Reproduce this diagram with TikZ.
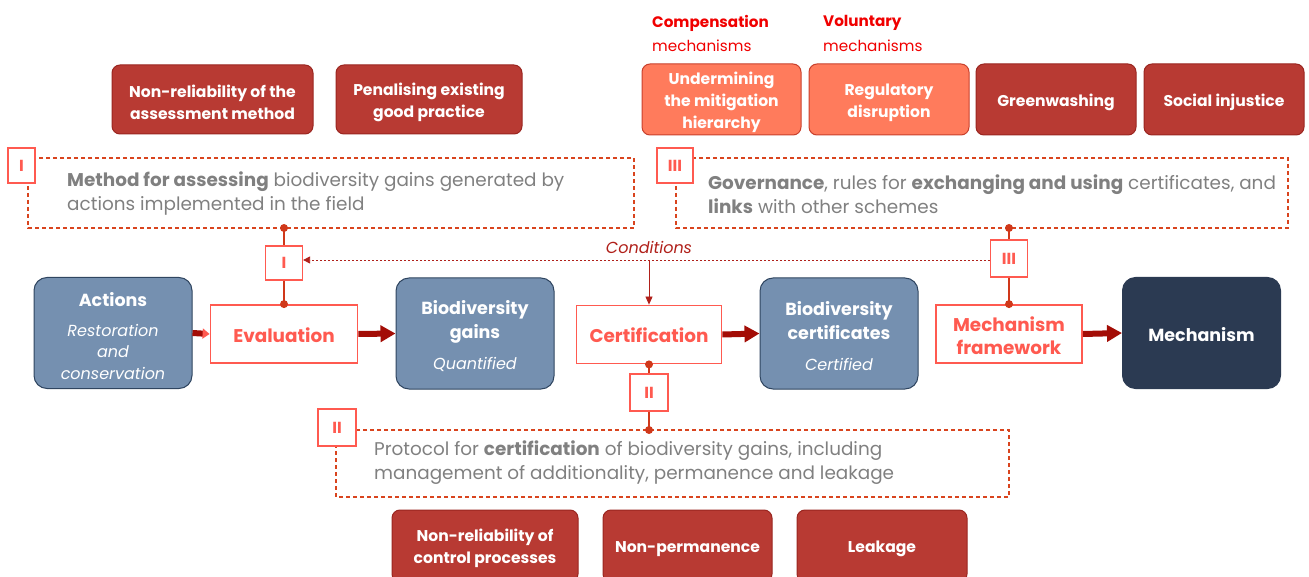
\documentclass[tikz,border=0pt]{standalone}
\usepackage{fontspec}
\setmainfont{Poppins}
\usetikzlibrary{arrows.meta}
\definecolor{riskred}{HTML}{B83A33}
\definecolor{riskborder}{HTML}{9A2620}
\definecolor{riskcoral}{HTML}{FF7B5C}
\definecolor{coralborder}{HTML}{C8402C}
\definecolor{slate}{HTML}{7590B0}
\definecolor{slateborder}{HTML}{2F4560}
\definecolor{navy}{HTML}{2B3A52}
\definecolor{coral}{HTML}{FF5A50}
\definecolor{flowred}{HTML}{A30D06}
\definecolor{dotred}{HTML}{D0381A}
\definecolor{dashred}{HTML}{D9441E}
\definecolor{condred}{HTML}{B0201A}
\definecolor{txtgray}{HTML}{808080}
\definecolor{headred}{HTML}{F00000}
\newcommand\subtf{\itshape\fontsize{16}{21.5}\selectfont}
\newcommand\bigb{\upshape\bfseries\fontsize{17.5}{21.5}\selectfont}
\newcommand\dn[1]{\rule{0pt}{#1}}
\begin{document}
\begin{tikzpicture}[x=1pt,y=-1pt,
  risk/.style={rectangle, rounded corners=8pt, fill=riskred, draw=riskborder, line width=1pt,
    text=white, font=\bfseries\fontsize{15.6}{22}\selectfont, align=center, inner sep=0pt},
  riskl/.style={risk, fill=riskcoral, draw=coralborder},
  bluebox/.style={rectangle, rounded corners=13pt, fill=slate, draw=slateborder, line width=1pt,
    text=white, align=center, inner sep=0pt, minimum width=158pt, minimum height=111pt,
    font=\subtf},
  stepbox/.style={rectangle, draw=coral, line width=1.8pt, fill=white, text=coral,
    font=\bfseries\fontsize{18.4}{23}\selectfont, align=center, inner sep=0pt, minimum height=58pt},
  tagbox/.style={rectangle, draw=coral, line width=1.2pt, fill=white, text=coral,
    font=\bfseries\fontsize{16}{18}\selectfont, inner sep=0pt},
  dbox/.style={draw=dashred, line width=1.1pt, dash pattern=on 4pt off 3pt},
  desc/.style={anchor=west, text=txtgray, font=\fontsize{18.4}{24}\selectfont, align=left, inner sep=0pt},
  flow/.style={draw=flowred, line width=6pt, -{Triangle[length=15pt,width=16pt]}},
  link/.style={draw=dotred, line width=1.3pt},
  dot/.style={circle, fill=dotred, inner sep=0pt, minimum size=8pt},
  cond/.style={draw=condred, line width=0.8pt, dash pattern=on 2pt off 2pt},
  headb/.style={anchor=west, text=headred, font=\bfseries\fontsize{15.2}{18}\selectfont, inner sep=0pt},
  headn/.style={anchor=west, text=headred, font=\fontsize{15.2}{18}\selectfont, inner sep=0pt}
]
\useasboundingbox (0,0) rectangle (1309,577);

% top risk boxes
\node[risk, minimum width=201pt, minimum height=69pt] (rA) at (212.5,99.5) {\dn{17.5pt}Non-reliability of the\\assessment method};
\node[risk, minimum width=186pt, minimum height=69pt] (rB) at (429,99.5) {\dn{17.5pt}Penalising existing\\good practice};
\node[riskl, minimum width=159pt, minimum height=71pt] (rC) at (721.5,99.5) {\dn{17.5pt}Undermining\\the mitigation\\hierarchy};
\node[riskl, minimum width=160pt, minimum height=71pt] (rD) at (889,99.5) {\dn{17.5pt}Regulatory\\disruption};
\node[risk, minimum width=160pt, minimum height=71pt] (rE) at (1056,99.5) {\dn{17.5pt}Greenwashing};
\node[risk, minimum width=160pt, minimum height=71pt] (rF) at (1224,99.5) {\dn{17.5pt}Social injustice};

\node[headb] (h1) at (652,23) {Compensation};
\node[headn] (h2) at (652,46) {mechanisms};
\node[headb] (h3) at (823,23) {Voluntary};
\node[headn] (h4) at (823,46) {mechanisms};

% dashed boxes
\draw[dbox] (28,158) rectangle (634,228);
\coordinate (dIb) at (284,228);
\node[desc] (tx1) at (67,194) {\textbf{Method for assessing} biodiversity gains generated by\\actions implemented in the field};
\node[tagbox, minimum width=27pt, minimum height=35pt] (tIbig) at (21.5,165.5) {I};

\draw[dbox] (676,158) rectangle (1288,228);
\coordinate (dIIIb) at (1009,228);
\node[desc] (tx3) at (708,194) {\textbf{Governance}, rules for \textbf{exchanging and using} certificates, and\\\textbf{links} with other schemes};
\node[tagbox, minimum width=36pt, minimum height=35pt] (tIIIbig) at (675,165.5) {III};

\draw[dbox] (336,430) rectangle (1009,497);
\coordinate (dIIt) at (649,430);
\node[desc] (tx2) at (374,463) {Protocol for \textbf{certification} of biodiversity gains, including\\management of additionality, permanence and leakage};
\node[tagbox, minimum width=38pt, minimum height=37pt] (tIIbig) at (337,427.5) {II};

% main flow
\node[bluebox] (act) at (113,333) {\bigb\dn{20pt}Actions\\[8.5pt]\subtf Restoration\\\subtf and\\\subtf conservation};
\node[stepbox, minimum width=147pt] (ev) at (284,334) {\dn{17pt}Evaluation};
\node[bluebox] (gain) at (475,333.5) {\bigb\dn{20pt}Biodiversity\\[2.5pt]\bigb gains\\[9.5pt]\subtf Quantified};
\node[stepbox, minimum width=145pt] (cert) at (649,334.5) {\dn{17pt}Certification};
\node[bluebox] (bcert) at (839,333.5) {\bigb\dn{20pt}Biodiversity\\[2.5pt]\bigb certificates\\[9.5pt]\subtf Certified};
\node[stepbox, minimum width=146pt] (mfw) at (1009,334) {\dn{18pt}Mechanism\\framework};
\node[bluebox, fill=navy, draw=navy, font=\bigb] (mech) at (1201.5,333) {\dn{17pt}Mechanism};

\draw[draw=flowred, line width=6pt, -{Triangle[length=7pt,width=10pt,fill=coral,color=coral]}] (act.east) -- (ev.west);
\draw[flow] (ev.east) -- (gain.west);
\draw[flow] (cert.east) -- (bcert.west);
\draw[flow] (mfw.east) -- (mech.west);

% small tags and links
\node[tagbox, minimum width=37pt, minimum height=34pt] (tI) at (284,263) {I};
\node[tagbox, minimum width=38pt, minimum height=37pt] (tII) at (649,392.5) {II};
\node[tagbox, minimum width=37pt, minimum height=37pt] (tIII) at (1009,258.5) {III};

\draw[link] (dIb) -- (tI.north);
\draw[link] (tI.south) -- (ev.north);
\node[dot] (d1) at (dIb) {};
\node[dot] (d2) at (ev.north) {};

\draw[link] (cert.south) -- (tII.north);
\draw[link] (tII.south) -- (dIIt);
\node[dot] (d3) at (cert.south) {};
\node[dot] (d4) at (dIIt) {};

\draw[link] (dIIIb) -- (tIII.north);
\draw[link] (tIII.south) -- (mfw.north);
\node[dot] (d5) at (dIIIb) {};
\node[dot] (d6) at (mfw.north) {};

% conditions
\draw[cond, -{Triangle[length=7pt,width=7pt]}] (tIII.west |- 0,260) -- (tI.east |- 0,260);
\coordinate (cj) at (649,260);
\draw[draw=condred, line width=0.8pt, -{Triangle[length=8pt,width=7pt]}] (cj) -- (cert.north);
\node[text=condred, font=\itshape\fontsize{16}{18}\selectfont, inner sep=0pt] (condl) at (649,247) {Conditions};

% bottom risk boxes
\node[risk, minimum width=186pt, minimum height=72pt] (rG) at (485,546) {\dn{17.5pt}Non-reliability of\\control processes};
\node[risk, minimum width=169pt, minimum height=72pt] (rH) at (687.5,546) {\dn{17.5pt}Non-permanence};
\node[risk, minimum width=170pt, minimum height=72pt] (rI) at (882,546) {\dn{17.5pt}Leakage};
\end{tikzpicture}
\end{document}
